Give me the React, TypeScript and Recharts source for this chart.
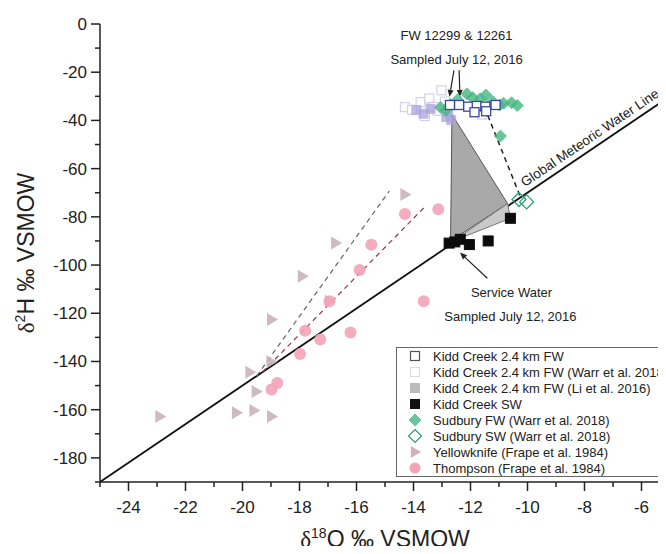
import React from "react";
import {
  ComposedChart,
  XAxis,
  YAxis,
  Scatter,
  ReferenceLine,
  ReferenceDot,
  Legend
} from "recharts";

const FONT = '"Liberation Sans", Arial, sans-serif';

// tick values (major ones get labels)
const xTicks = [-25, -24, -23, -22, -21, -20, -19, -18, -17, -16, -15, -14, -13, -12, -11, -10, -9, -8, -7, -6, -5];
const yTicks = [-190, -180, -170, -160, -150, -140, -130, -120, -110, -100, -90, -80, -70, -60, -50, -40, -30, -20, -10, 0];

// d18O, d2H pairs
const kiddFW = [[-12.72, -33.6], [-12.4, -33.6], [-12.08, -34.3], [-11.78, -34.0], [-11.86, -36.6], [-11.48, -34.3], [-11.45, -36.2], [-11.12, -33.6]];
const warrFW = [[-14.3, -34.5], [-14.05, -35.6], [-13.75, -32.4], [-13.45, -30.9], [-13.3, -34.4], [-13.02, -27.5], [-12.9, -32.2], [-13.6, -38.2], [-13.15, -36.0], [-11.6, -37.6], [-12.2, -31.8]];
const liFW = [[-13.9, -35.7], [-13.65, -37.2], [-13.4, -35.2], [-12.85, -38.6], [-12.68, -39.8], [-12.78, -36.4]];
const kiddSW = [[-12.75, -90.9], [-12.55, -90.4], [-12.36, -89.3], [-12.04, -91.5], [-11.38, -90.0], [-10.6, -80.6]];
const sudburyFW = [[-13.05, -34.6], [-12.86, -35.8], [-12.7, -33.4], [-12.45, -31.4], [-12.12, -29.0], [-11.92, -30.6], [-11.66, -31.0], [-11.46, -29.5], [-11.22, -32.2], [-10.98, -33.6], [-10.84, -32.9], [-10.56, -32.7], [-10.36, -33.8], [-10.95, -46.5]];
const sudburySW = [[-10.3, -72.8], [-10.03, -73.8]];
const yellowknife = [[-14.3, -70.7], [-16.73, -90.9], [-17.9, -104.6], [-18.98, -122.6], [-16.95, -115.0], [-19.0, -140.1], [-19.74, -144.5], [-19.52, -152.5], [-20.21, -161.3], [-19.6, -160.3], [-18.98, -162.8], [-22.9, -162.8]];
const thompson = [[-13.13, -76.9], [-14.3, -78.8], [-15.48, -91.6], [-15.89, -102.1], [-16.95, -115.0], [-13.64, -115.0], [-17.8, -127.3], [-16.21, -128.0], [-17.27, -130.9], [-17.98, -136.9], [-18.78, -148.9], [-18.98, -151.6]];

// mixing triangle between fracture water and service water
const mixUpper = [[-12.65, -37.5], [-10.7, -74.5], [-12.7, -90.0], [-12.65, -37.5]];
const mixLower = [[-12.6, -90.0], [-10.7, -74.5], [-10.6, -80.6], [-12.6, -90.0]];

// global meteoric water line d2H = 8 d18O + 10
const gmwl = [[-25, -190], [-5, -30]];
const dashYellowknife = [[-19.5, -146], [-14.85, -69.3]];
const dashThompson = [[-19.3, -144.4], [-13.64, -76.3]];
const dashSudbury = [[-11.51, -34.5], [-10.26, -71.4]];

const arrows = [
  [[-12.58, -19.2], [-12.74, -30.2]],
  [[-12.4, -19.2], [-12.37, -30.2]],
  [[-11.41, -105.5], [-12.37, -94.8]]
];

const notes = [
  { x: -12.49, y: -4.6, text: "FW 12299 & 12261" },
  { x: -12.49, y: -14.9, text: "Sampled July 12, 2016" },
  { x: -10.56, y: -111.4, text: "Service Water" },
  { x: -10.6, y: -121.3, text: "Sampled July 12, 2016" }
];

const legendNames = [
  "Kidd Creek 2.4 km FW",
  "Kidd Creek 2.4 km FW (Warr et al. 2018)",
  "Kidd Creek 2.4 km FW (Li et al. 2016)",
  "Kidd Creek SW",
  "Sudbury FW (Warr et al. 2018)",
  "Sudbury SW (Warr et al. 2018)",
  "Yellowknife (Frape et al. 1984)",
  "Thompson (Frape et al. 1984)"
];

const toPts = (arr: number[][]) => arr.map(([x, y]) => ({ x, y }));
const seg = (arr: number[][]) => arr.map(([x, y]) => ({ x, y }));

const square = (size: number, fill: string, stroke: string, sw = 1.2, opacity = 1) => (p: any) => (
  <rect x={p.cx - size / 2} y={p.cy - size / 2} width={size} height={size} fill={fill} stroke={stroke} strokeWidth={sw} opacity={opacity} />
);
const diamond = (r: number, fill: string, stroke: string, sw = 1.2, opacity = 1) => (p: any) => (
  <polygon points={`${p.cx},${p.cy - r} ${p.cx + r},${p.cy} ${p.cx},${p.cy + r} ${p.cx - r},${p.cy}`} fill={fill} stroke={stroke} strokeWidth={sw} opacity={opacity} />
);
const triangle = (r: number, fill: string, opacity = 1) => (p: any) => (
  <polygon points={`${p.cx - r * 0.7},${p.cy - r} ${p.cx + r},${p.cy} ${p.cx - r * 0.7},${p.cy + r}`} fill={fill} opacity={opacity} />
);
const blob = (r: number, fill: string, opacity = 1) => (p: any) => (
  <circle cx={p.cx} cy={p.cy} r={r} fill={fill} opacity={opacity} />
);
const noDot = () => <g />;

const XTick = (props: any) => {
  const { x, y, payload } = props;
  const v = payload.value;
  const major = v % 2 === 0;
  return (
    <g>
      <line x1={x} y1={y} x2={x} y2={y + (major ? 9 : 5)} stroke="#222" strokeWidth={1.5} />
      {major && (
        <text x={x} y={y + 31} textAnchor="middle" fontSize={17} fill="#222" fontFamily={FONT}>
          {v}
        </text>
      )}
    </g>
  );
};

const YTick = (props: any) => {
  const { x, y, payload } = props;
  const v = payload.value;
  const major = v % 20 === 0;
  return (
    <g>
      <line x1={x} y1={y} x2={x - (major ? 9 : 5)} y2={y} stroke="#222" strokeWidth={1.5} />
      {major && (
        <text x={x - 13} y={y + 6} textAnchor="end" fontSize={17} fill="#222" fontFamily={FONT}>
          {v}
        </text>
      )}
    </g>
  );
};

const XTitle = (props: any) => {
  const vb = props.viewBox || { x: 100, y: 482, width: 570, height: 72 };
  const cx = 385;
  return (
    <text x={cx} y={vb.y + 65} textAnchor="middle" fontSize={23} fill="#222" fontFamily={FONT}>
      <tspan fontFamily='"Liberation Serif", serif'>δ</tspan>
      <tspan fontSize={14} dy={-9}>18</tspan>
      <tspan dy={9}>O ‰ VSMOW</tspan>
    </text>
  );
};

const YTitle = (props: any) => {
  const vb = props.viewBox || { x: 0, y: 24, width: 100, height: 458 };
  const cx = 34;
  const cy = vb.y + vb.height / 2;
  return (
    <text x={cx} y={cy} transform={`rotate(-90, ${cx}, ${cy})`} textAnchor="middle" fontSize={23} fill="#222" fontFamily={FONT}>
      <tspan fontFamily='"Liberation Serif", serif'>δ</tspan>
      <tspan fontSize={14} dy={-9}>2</tspan>
      <tspan dy={9}>H ‰ VSMOW</tspan>
    </text>
  );
};

const Arrow = (props: any) => {
  const { x1, y1, x2, y2 } = props;
  const a = Math.atan2(y2 - y1, x2 - x1);
  const len = 7;
  const w = 3;
  const bx = x2 - len * Math.cos(a);
  const by = y2 - len * Math.sin(a);
  const px = -Math.sin(a) * w;
  const py = Math.cos(a) * w;
  return (
    <g>
      <line x1={x1} y1={y1} x2={bx} y2={by} stroke="#222" strokeWidth={1.2} />
      <polygon points={`${x2},${y2} ${bx + px},${by + py} ${bx - px},${by - py}`} fill="#222" />
    </g>
  );
};

const Note = (text: string) => (p: any) => (
  <text x={p.cx} y={p.cy + 4.5} textAnchor="middle" fontSize={13} fill="#222" fontFamily={FONT}>
    {text}
  </text>
);

const GmwlLabel = (p: any) => (
  <text
    x={p.cx}
    y={p.cy}
    transform={`rotate(-34.1, ${p.cx}, ${p.cy})`}
    dx={6}
    dy={-6}
    fontSize={13.5}
    fill="#222"
    fontFamily={FONT}
  >
    Global Meteoric Water Line
  </text>
);

const legendSymbols = [
  square(9, "#fff", "#555", 1.2),
  square(9, "#fff", "#ddd", 1.2),
  square(9, "#bbb", "#bbb", 1),
  square(9, "#111", "#111", 1),
  diamond(6, "#6cc7a0", "#6cc7a0", 1),
  diamond(6.5, "#fff", "#2e9e72", 1.2),
  triangle(6, "#d3b0bc"),
  blob(5.5, "#f3a6b9")
];

const LegendBox = () => (
  <div
    style={{
      border: "1px solid #666",
      background: "#fff",
      width: 290,
      boxSizing: "border-box",
      fontFamily: FONT,
      fontSize: 13,
      color: "#222"
    }}
  >
    {legendNames.map((name, i) => (
      <div key={name} style={{ display: "flex", alignItems: "center", height: 16 }}>
        <svg width={36} height={16} style={{ flex: "none" }}>
          {legendSymbols[i]({ cx: 18, cy: 8 })}
        </svg>
        <span style={{ whiteSpace: "nowrap" }}>{name}</span>
      </div>
    ))}
  </div>
);

const App = () => {
  return (
    <div style={{ margin: -8, width: 666, height: 554, overflow: "hidden", position: "relative", background: "#fff" }}>
      <ComposedChart width={690} height={554} margin={{ top: 24, right: 20, left: 0, bottom: 0 }}>
        <XAxis
          type="number"
          dataKey="x"
          domain={[-25, -5]}
          ticks={xTicks}
          interval={0}
          tickSize={0}
          tickMargin={0}
          tickLine={false}
          tick={<XTick />}
          height={72}
          allowDataOverflow
          axisLine={{ stroke: "#222", strokeWidth: 1.5 }}
          label={<XTitle />}
        />
        <YAxis
          type="number"
          dataKey="y"
          domain={[-190, 0]}
          ticks={yTicks}
          interval={0}
          tickSize={0}
          tickMargin={0}
          tickLine={false}
          tick={<YTick />}
          width={100}
          allowDataOverflow
          axisLine={{ stroke: "#222", strokeWidth: 1.5 }}
          label={<YTitle />}
        />

        <Scatter data={toPts(mixUpper)} line={{ stroke: "#555", strokeWidth: 1, fill: "#a9a9a9" }} shape={noDot} isAnimationActive={false} />
        <Scatter data={toPts(mixLower)} line={{ stroke: "#777", strokeWidth: 1, fill: "#c9c9c9" }} shape={noDot} isAnimationActive={false} />

        <ReferenceLine segment={seg(gmwl)} stroke="#111" strokeWidth={1.8} />
        <ReferenceLine segment={seg(dashYellowknife)} stroke="#666" strokeWidth={1.2} strokeDasharray="5 4" />
        <ReferenceLine segment={seg(dashThompson)} stroke="#9a3344" strokeWidth={1.2} strokeDasharray="5 4" />
        <ReferenceLine segment={seg(dashSudbury)} stroke="#222" strokeWidth={1.5} strokeDasharray="5 4" />
        {arrows.map((a, i) => (
          <ReferenceLine key={`arrow-${i}`} segment={seg(a)} shape={Arrow} />
        ))}

        <Scatter data={toPts(warrFW)} shape={square(9, "#fff", "#cfcdec", 1.2, 0.9)} isAnimationActive={false} />
        <Scatter data={toPts(liFW)} shape={square(9, "#aaa4dc", "#aaa4dc", 1, 0.75)} isAnimationActive={false} />
        <Scatter data={toPts(sudburyFW)} shape={diamond(6, "#44b883", "#44b883", 1, 0.8)} isAnimationActive={false} />
        <Scatter data={toPts(kiddFW)} shape={square(9, "#fff", "#3d46a3", 1.3)} isAnimationActive={false} />
        <Scatter data={toPts(kiddSW)} shape={square(10, "#0c0c0c", "#0c0c0c", 1)} isAnimationActive={false} />
        <Scatter data={toPts(sudburySW)} shape={diamond(7, "none", "#2e9e72", 1.3)} isAnimationActive={false} />
        <Scatter data={toPts(yellowknife)} shape={triangle(6.5, "#c8b2bb", 0.9)} isAnimationActive={false} />
        <Scatter data={toPts(thompson)} shape={blob(6, "#f3a3b7", 0.9)} isAnimationActive={false} />

        {notes.map((n) => (
          <ReferenceDot key={n.text + n.y} x={n.x} y={n.y} r={0} shape={Note(n.text)} />
        ))}
        <ReferenceDot x={-10.15} y={-71.2} r={0} shape={GmwlLabel} />

        <Legend
          layout="vertical"
          align="center"
          verticalAlign="middle"
          content={<LegendBox />}
          wrapperStyle={{ left: 396, top: 347, width: 290 }}
        />
      </ComposedChart>
    </div>
  );
};

export default App;
